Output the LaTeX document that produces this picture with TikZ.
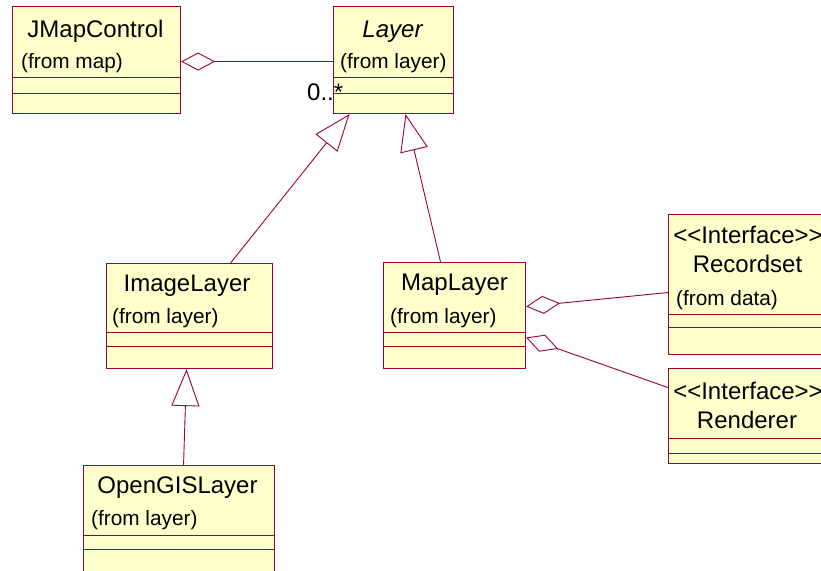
\documentclass[tikz,border=0pt]{standalone}
\usepackage{fontspec}
\setmainfont{Liberation Sans}
\usetikzlibrary{arrows.meta,positioning}
\definecolor{Wine}{HTML}{990033}
\definecolor{Cream}{HTML}{FFFFCC}
\begin{document}
\begin{tikzpicture}[x=1pt,y=-1pt,
  cls/.style={draw=Wine,fill=Cream,line width=1.1pt,anchor=north west,inner sep=0pt},
  sep/.style={draw=Wine,line width=0.8pt},
  big/.style={font=\fontsize{24}{28}\selectfont,inner sep=0pt,anchor=base},
  small/.style={font=\fontsize{20.8}{24}\selectfont,inner sep=0pt,anchor=base west},
  gen/.style={draw=Wine,line width=0.9pt,-{Triangle[open,length=37pt,width=28pt]}},
  agg/.style={draw=Wine,line width=0.9pt,{Diamond[open,length=34pt,width=18pt]}-}]
  \useasboundingbox (0,0) rectangle (821,570);
  \clip (0,0) rectangle (821,570);
  % class boxes
  \node[cls,minimum width=168pt,minimum height=107pt] (jmap) at (12,6) {};
  \node[cls,minimum width=120pt,minimum height=107pt] (layer) at (333,6) {};
  \node[cls,minimum width=166pt,minimum height=105pt] (img) at (106,263) {};
  \node[cls,minimum width=191pt,minimum height=125pt] (ogis) at (83,465) {};
  \node[cls,minimum width=142pt,minimum height=106pt] (map) at (383,262) {};
  \node[cls,minimum width=160pt,minimum height=140pt] (rec) at (668,214) {};
  \node[cls,minimum width=160pt,minimum height=95pt] (ren) at (668,368) {};
  % compartments
  \draw[sep] (jmap.west |- 0,77) -- (jmap.east |- 0,77) (jmap.west |- 0,93) -- (jmap.east |- 0,93);
  \draw[sep] (layer.west |- 0,77) -- (layer.east |- 0,77) (layer.west |- 0,93) -- (layer.east |- 0,93);
  \draw[sep] (img.west |- 0,332) -- (img.east |- 0,332) (img.west |- 0,346) -- (img.east |- 0,346);
  \draw[sep] (ogis.west |- 0,535) -- (ogis.east |- 0,535) (ogis.west |- 0,549) -- (ogis.east |- 0,549);
  \draw[sep] (map.west |- 0,332) -- (map.east |- 0,332) (map.west |- 0,346) -- (map.east |- 0,346);
  \draw[sep] (rec.west |- 0,314) -- (rec.east |- 0,314) (rec.west |- 0,327) -- (rec.east |- 0,327);
  \draw[sep] (ren.west |- 0,438) -- (ren.east |- 0,438) (ren.west |- 0,453) -- (ren.east |- 0,453);
  % texts
  \node[big] (jmapN) at (95.5,37) {JMapControl};
  \node[small] (jmapF) at (21,68) {(from map)};
  \node[big,font=\fontsize{24}{28}\selectfont\itshape] (layerN) at (392.5,37) {Layer};
  \node[small] (layerF) at (340,68) {(from layer)};
  \node[big,anchor=base west] (mult) at (307,100) {0..*};
  \node[big] (imgN) at (187,291) {ImageLayer};
  \node[small] (imgF) at (112,323) {(from layer)};
  \node[big] (ogisN) at (177.5,493) {OpenGISLayer};
  \node[small] (ogisF) at (91,525) {(from layer)};
  \node[big] (mapN) at (454.5,290) {MapLayer};
  \node[small] (mapF) at (390,323) {(from layer)};
  \node[big] (recS) at (748,243) {<\kern0pt<Interface>\kern0pt>};
  \node[big] (recN) at (747.5,272) {Recordset};
  \node[small] (recF) at (676,305) {(from data)};
  \node[big] (renS) at (748,399) {<\kern0pt<Interface>\kern0pt>};
  \node[big] (renN) at (747,428) {Renderer};
  % relations
  \draw[agg] ([yshift=-1.5pt]jmap.east) -- ([yshift=-1.5pt]layer.west);
  \draw[gen] ([xshift=41pt]img.north) -- ([xshift=-44pt]layer.south);
  \draw[gen] ([xshift=-14pt]map.north) -- ([xshift=12pt]layer.south);
  \draw[gen] ([xshift=4.5pt]ogis.north) -- ([xshift=-3pt]img.south);
  \draw[agg] ([yshift=9pt]map.east) -- ([yshift=-8pt]rec.west);
  \draw[agg] ([yshift=-22pt]map.east) -- ([yshift=28.5pt]ren.west);
\end{tikzpicture}
\end{document}
